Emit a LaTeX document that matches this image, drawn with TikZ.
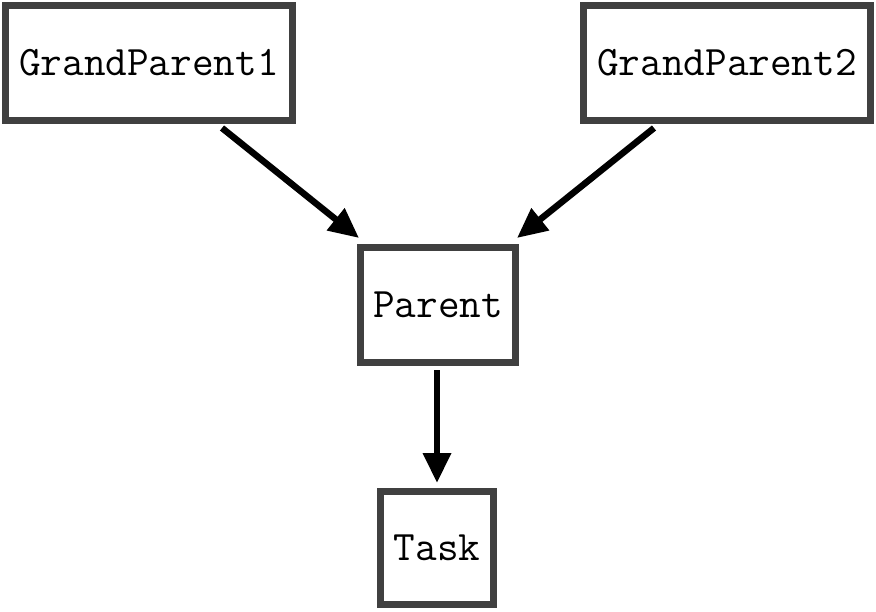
\documentclass[tikz,border=0pt]{standalone}
\usetikzlibrary{arrows.meta}
\definecolor{boxgray}{HTML}{404040}
\tikzset{
  x=1pt, y=-1pt,
  box/.style={draw=boxgray, line width=7pt, fill=white, inner sep=0pt,
    font=\fontsize{42}{50}\selectfont\ttfamily},
  conn/.style={line width=6.5pt, draw=black, -{Triangle[length=30pt,width=27pt]}}
}
\begin{document}
\begin{tikzpicture}
\useasboundingbox (0,0) rectangle (876,611);
\node[box, minimum width=287pt, minimum height=115pt] (gp1) at (149,63) {GrandParent1};
\node[box, minimum width=287pt, minimum height=115pt] (gp2) at (727,63) {GrandParent2};
\node[box, minimum width=155pt, minimum height=115pt] (parent) at (438,305) {Parent};
\node[box, minimum width=113pt, minimum height=113pt] (task) at (437,548) {Task};
\draw[conn] ([shift={(73pt,-4pt)}]gp1.south) -- ([shift={(2pt,6pt)}]parent.north west);
\draw[conn] ([shift={(-73pt,-4pt)}]gp2.south) -- ([shift={(-2pt,6pt)}]parent.north east);
\draw[conn] ([shift={(-1pt,-4pt)}]parent.south) -- ([yshift=5pt]task.north);
\end{tikzpicture}
\end{document}
